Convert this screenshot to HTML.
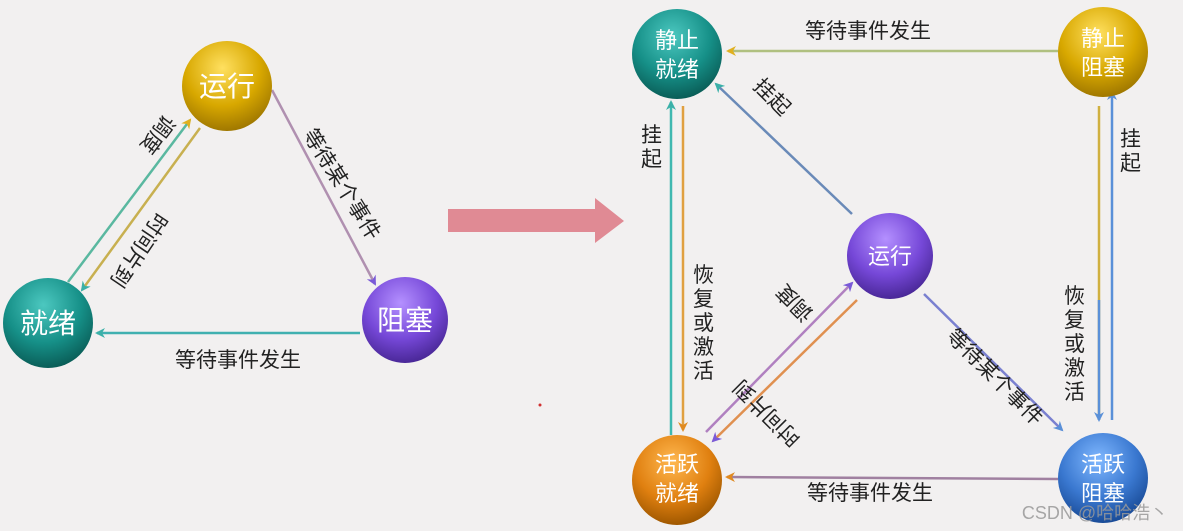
<!DOCTYPE html>
<html><head><meta charset="utf-8"><style>
html,body{margin:0;padding:0;background:#f2f0f0;}
svg{display:block;}
text{font-family:"Liberation Sans","Noto Sans CJK SC",sans-serif;}
.l{font-size:21px;fill:#222;}
.n{font-size:28px;fill:#fff;text-anchor:middle;}
.s{font-size:22px;fill:#fff;text-anchor:middle;}
</style></head><body>
<svg width="1183" height="531" viewBox="0 0 1183 531" xmlns="http://www.w3.org/2000/svg">
<defs>
<radialGradient id="gy" cx="45%" cy="30%" r="70%"><stop offset="0" stop-color="#ffe060"/><stop offset="0.6" stop-color="#d8a800"/><stop offset="1" stop-color="#a07800"/></radialGradient>
<radialGradient id="gt" cx="45%" cy="30%" r="70%"><stop offset="0" stop-color="#4cc8c0"/><stop offset="0.6" stop-color="#169088"/><stop offset="1" stop-color="#0a5e58"/></radialGradient>
<radialGradient id="gp" cx="45%" cy="30%" r="70%"><stop offset="0" stop-color="#b490ff"/><stop offset="0.6" stop-color="#7648d8"/><stop offset="1" stop-color="#4a2898"/></radialGradient>
<radialGradient id="go" cx="45%" cy="30%" r="70%"><stop offset="0" stop-color="#ffb850"/><stop offset="0.6" stop-color="#e08010"/><stop offset="1" stop-color="#a05800"/></radialGradient>
<radialGradient id="gb" cx="45%" cy="30%" r="70%"><stop offset="0" stop-color="#80b8ff"/><stop offset="0.6" stop-color="#3a78d0"/><stop offset="1" stop-color="#1a4c98"/></radialGradient>
<marker id="mt" markerWidth="10" markerHeight="10" refX="8" refY="5" orient="auto" markerUnits="userSpaceOnUse"><path d="M0,0 L10,5 L0,10 L3,5z" fill="#3ab0a8"/></marker>
<marker id="mp" markerWidth="10" markerHeight="10" refX="8" refY="5" orient="auto" markerUnits="userSpaceOnUse"><path d="M0,0 L10,5 L0,10 L3,5z" fill="#7a5ad8"/></marker>
<marker id="my" markerWidth="10" markerHeight="10" refX="8" refY="5" orient="auto" markerUnits="userSpaceOnUse"><path d="M0,0 L10,5 L0,10 L3,5z" fill="#e0b020"/></marker>
<marker id="mo" markerWidth="10" markerHeight="10" refX="8" refY="5" orient="auto" markerUnits="userSpaceOnUse"><path d="M0,0 L10,5 L0,10 L3,5z" fill="#e08a20"/></marker>
<marker id="mb" markerWidth="10" markerHeight="10" refX="8" refY="5" orient="auto" markerUnits="userSpaceOnUse"><path d="M0,0 L10,5 L0,10 L3,5z" fill="#5a90d8"/></marker>
</defs>
<g stroke-width="2.5" fill="none">
<line x1="68" y1="282" x2="190" y2="120" stroke="#5ab8a0" marker-end="url(#my)"/>
<line x1="200" y1="128" x2="82" y2="290" stroke="#c8b050" marker-end="url(#mt)"/>
<line x1="272" y1="90" x2="375" y2="284" stroke="#b090b0" marker-end="url(#mp)"/>
<line x1="360" y1="333" x2="97" y2="333" stroke="#40b0b0" marker-end="url(#mt)"/>
<line x1="1058" y1="51" x2="728" y2="51" stroke="#b0c080" marker-end="url(#my)"/>
<line x1="671" y1="435" x2="671" y2="102" stroke="#40b8b0" marker-end="url(#mt)"/>
<line x1="683" y1="106" x2="683" y2="430" stroke="#e0a040" marker-end="url(#mo)"/>
<line x1="852" y1="214" x2="716" y2="84" stroke="#6a8ab8" marker-end="url(#mt)"/>
<line x1="706" y1="432" x2="852" y2="283" stroke="#b080c0" marker-end="url(#mp)"/>
<line x1="857" y1="300" x2="713" y2="441" stroke="#e09050" marker-end="url(#mp)"/>
<line x1="924" y1="294" x2="1062" y2="430" stroke="#7a80d0" marker-end="url(#mb)"/>
<line x1="1099" y1="106" x2="1099" y2="420" stroke="#d0b040"/>
<line x1="1099" y1="300" x2="1099" y2="420" stroke="#5a90d8" marker-end="url(#mb)"/>
<line x1="1112" y1="420" x2="1112" y2="92" stroke="#5a90d8" marker-end="url(#mb)"/>
<line x1="1058" y1="479" x2="727" y2="477" stroke="#a080a0" marker-end="url(#mo)"/>
</g>
<path d="M448,209 L595,209 L595,198 L624,221 L595,243 L595,232 L448,232z" fill="#e08a94"/>
<circle cx="540" cy="405" r="1.5" fill="#d03030"/>
<circle cx="227" cy="86" r="45" fill="url(#gy)"/>
<text class="n" x="227" y="96">运行</text>
<circle cx="48" cy="323" r="45" fill="url(#gt)"/>
<text class="n" x="48" y="333">就绪</text>
<circle cx="405" cy="320" r="43" fill="url(#gp)"/>
<text class="n" x="405" y="330">阻塞</text>
<text class="l" transform="translate(152,130) rotate(127)" text-anchor="middle">调度</text>
<text class="l" transform="translate(133,246) rotate(124)" text-anchor="middle">时间片到</text>
<text class="l" transform="translate(336,188) rotate(58)" text-anchor="middle">等待某个事件</text>
<text class="l" x="238" y="367" text-anchor="middle">等待事件发生</text>
<circle cx="677" cy="54" r="45" fill="url(#gt)"/>
<text class="s" x="677" y="48">静止</text><text class="s" x="677" y="77">就绪</text>
<circle cx="1103" cy="52" r="45" fill="url(#gy)"/>
<text class="s" x="1103" y="46">静止</text><text class="s" x="1103" y="75">阻塞</text>
<circle cx="890" cy="256" r="43" fill="url(#gp)"/>
<text class="s" x="890" y="264">运行</text>
<circle cx="677" cy="480" r="45" fill="url(#go)"/>
<text class="s" x="677" y="472">活跃</text><text class="s" x="677" y="501">就绪</text>
<circle cx="1103" cy="478" r="45" fill="url(#gb)"/>
<text class="s" x="1103" y="472">活跃</text><text class="s" x="1103" y="501">阻塞</text>
<text class="l" x="868" y="38" text-anchor="middle">等待事件发生</text>
<text class="l" x="641" y="142">挂</text><text class="l" x="641" y="166">起</text>
<text class="l" transform="translate(767,102) rotate(45)" text-anchor="middle">挂起</text>
<text class="l" x="693" y="282">恢</text><text class="l" x="693" y="306">复</text><text class="l" x="693" y="330">或</text><text class="l" x="693" y="354">激</text><text class="l" x="693" y="378">活</text>
<text class="l" x="1120" y="146">挂</text><text class="l" x="1120" y="170">起</text>
<text class="l" x="1064" y="303">恢</text><text class="l" x="1064" y="327">复</text><text class="l" x="1064" y="351">或</text><text class="l" x="1064" y="375">激</text><text class="l" x="1064" y="399">活</text>
<text class="l" transform="translate(800,298) rotate(-135)" text-anchor="middle">调度</text>
<text class="l" transform="translate(772,408) rotate(-135)" text-anchor="middle">时间片到</text>
<text class="l" transform="translate(990,382) rotate(45)" text-anchor="middle">等待某个事件</text>
<text class="l" x="870" y="500" text-anchor="middle">等待事件发生</text>
<text x="1095" y="519" font-size="18" fill="#999" text-anchor="middle" opacity="0.85">CSDN @哈哈浩丶</text>
</svg>
</body></html>
